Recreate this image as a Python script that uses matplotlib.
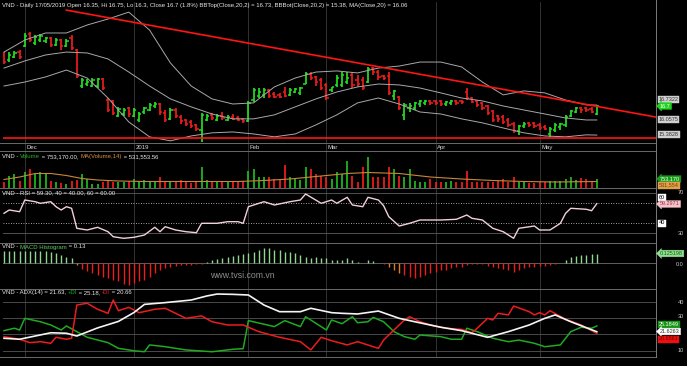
import numpy as np
import matplotlib.pyplot as plt
from matplotlib.lines import Line2D

plt.rcParams['font.family'] = ['Liberation Sans', 'DejaVu Sans']

# ---- data (VND daily, 27/11/2018 - 17/05/2019) ----
opens = [18.99, 18.76, 18.90, 19.12, 19.39, 19.93, 19.53, 19.66, 19.62, 19.75,
         19.44, 19.66, 19.39, 19.75, 19.21, 17.59, 17.68, 17.59, 17.59, 17.91,
         16.96, 16.92, 16.24, 16.33, 16.60, 16.24, 16.06, 16.42, 16.51, 16.69,
         16.78, 16.38, 16.11, 16.51, 16.20, 16.06, 15.97, 15.84, 15.61, 16.06,
         16.29, 16.06, 16.24, 16.06, 16.20, 16.15, 16.11, 16.02, 16.96, 17.14,
         17.19, 17.41, 17.23, 17.19, 17.32, 17.19, 17.32, 17.28, 17.68, 18.13,
         18.00, 17.86, 17.64, 17.41, 17.64, 17.64, 17.77, 18.09, 17.86, 17.86,
         17.77, 18.40, 18.22, 18.04, 18.04, 17.14, 17.10, 16.29, 16.60, 16.60,
         16.78, 16.83, 16.92, 16.92, 16.92, 16.78, 16.83, 16.92, 16.92, 17.32,
         17.05, 16.92, 16.83, 16.69, 16.47, 16.24, 16.20, 16.06, 15.88, 15.57,
         15.79, 15.93, 15.93, 15.84, 15.75, 15.43, 15.61, 15.75, 15.84, 16.24,
         16.42, 16.60, 16.60, 16.56, 16.35]
highs = [19.12, 19.12, 19.17, 19.21, 19.98, 20.02, 19.89, 19.93, 19.80, 19.80,
         19.75, 19.71, 19.71, 19.89, 19.26, 17.95, 17.91, 17.95, 17.95, 17.95,
         17.05, 16.96, 16.65, 16.60, 16.65, 16.60, 16.42, 16.65, 16.83, 16.87,
         16.83, 16.51, 16.60, 16.60, 16.29, 16.11, 16.06, 15.88, 16.38, 16.33,
         16.38, 16.33, 16.42, 16.29, 16.33, 16.24, 16.15, 16.92, 17.50, 17.50,
         17.50, 17.46, 17.32, 17.28, 17.55, 17.50, 17.50, 17.55, 18.22, 18.22,
         18.04, 17.95, 17.73, 17.55, 18.09, 18.22, 18.22, 18.22, 18.09, 18.00,
         18.45, 18.45, 18.31, 18.09, 18.22, 17.41, 17.14, 16.83, 16.83, 16.87,
         16.96, 16.96, 16.96, 16.96, 16.96, 16.92, 16.96, 16.96, 16.96, 17.50,
         17.10, 16.96, 16.87, 16.74, 16.51, 16.29, 16.29, 16.15, 15.97, 15.84,
         15.97, 15.97, 15.97, 15.93, 15.84, 15.75, 15.93, 15.93, 16.29, 16.51,
         16.65, 16.65, 16.65, 16.65, 16.75]
lows = [18.58, 18.67, 18.85, 18.81, 19.35, 19.57, 19.44, 19.57, 19.53, 19.35,
        19.39, 19.21, 19.35, 19.21, 17.95, 17.50, 17.59, 17.55, 17.50, 17.41,
        16.42, 16.29, 16.20, 16.24, 16.20, 16.20, 15.97, 16.33, 16.47, 16.60,
        16.29, 15.97, 16.06, 16.15, 15.88, 15.79, 15.70, 15.57, 15.07, 16.02,
        16.06, 16.02, 16.06, 16.02, 16.06, 16.02, 15.93, 15.97, 16.87, 17.05,
        17.05, 17.05, 17.05, 17.05, 17.10, 17.14, 17.28, 17.19, 17.68, 17.86,
        17.59, 17.41, 16.96, 17.32, 17.55, 17.55, 17.68, 17.50, 17.55, 17.41,
        17.73, 18.09, 17.86, 17.86, 17.19, 16.96, 16.51, 16.06, 16.42, 16.51,
        16.65, 16.74, 16.74, 16.74, 16.69, 16.69, 16.74, 16.74, 16.78, 16.96,
        16.83, 16.65, 16.51, 16.29, 15.97, 15.97, 15.88, 15.75, 15.48, 15.39,
        15.70, 15.75, 15.70, 15.61, 15.61, 15.30, 15.52, 15.61, 15.75, 16.20,
        16.38, 16.38, 16.42, 16.38, 16.30]
closes = [18.67, 18.99, 19.08, 18.90, 19.84, 19.66, 19.80, 19.84, 19.75, 19.44,
          19.66, 19.39, 19.62, 19.30, 18.04, 17.86, 17.77, 17.86, 17.91, 17.50,
          16.51, 16.38, 16.56, 16.51, 16.33, 16.51, 16.33, 16.60, 16.74, 16.78,
          16.42, 16.06, 16.51, 16.24, 16.02, 15.88, 15.79, 15.66, 16.29, 16.24,
          16.15, 16.24, 16.15, 16.20, 16.11, 16.06, 16.02, 16.83, 17.41, 17.32,
          17.41, 17.14, 17.10, 17.10, 17.14, 17.41, 17.46, 17.50, 18.13, 17.95,
          17.77, 17.50, 17.05, 17.55, 17.95, 18.09, 17.95, 17.64, 17.68, 17.50,
          18.36, 18.22, 18.00, 17.95, 17.28, 17.37, 16.60, 16.74, 16.69, 16.83,
          16.92, 16.92, 16.83, 16.83, 16.78, 16.87, 16.92, 16.83, 16.87, 17.05,
          16.87, 16.74, 16.60, 16.38, 16.06, 16.11, 15.97, 15.84, 15.57, 15.79,
          15.88, 15.84, 15.79, 15.70, 15.66, 15.66, 15.84, 15.88, 16.20, 16.47,
          16.60, 16.51, 16.51, 16.42, 16.70]

# volume in thousands of shares
volume = [476, 1025, 1148, 615, 1312, 1574, 1164, 1312, 1148, 615,
          492, 394, 328, 615, 656, 1148, 738, 328, 328, 492,
          656, 492, 492, 492, 574, 738, 615, 656, 492, 615,
          902, 615, 492, 615, 656, 492, 410, 574, 1722, 656,
          615, 615, 492, 615, 574, 492, 615, 1435, 1558, 902,
          902, 902, 738, 656, 1927, 902, 738, 656, 1722, 1558,
          1148, 1025, 902, 738, 1312, 1148, 2255, 1025, 476, 1722,
          2583, 902, 902, 902, 1722, 1558, 1025, 902, 1558, 615,
          476, 476, 738, 476, 476, 476, 615, 476, 476, 1435,
          476, 476, 476, 476, 476, 615, 738, 476, 902, 476,
          476, 394, 394, 476, 476, 615, 574, 574, 738, 902,
          656, 820, 738, 615, 753.17]
vma_idx = [0, 3, 6, 9, 12, 15, 18, 22, 27, 35, 45, 50, 55, 60, 66, 70, 76, 82, 88, 94, 100, 106, 114]
vma_val = [697, 902, 1189, 1189, 1025, 779, 656, 574, 533, 533, 533, 615, 738, 943, 1189,
           1271, 1189, 902, 738, 615, 533, 492, 531.554]

# Bollinger bands (20,2) sampled along the chart
bb_idx = [0, 4, 8, 12, 16, 20, 24, 28, 32, 36, 40, 44, 48, 52, 56, 60, 64, 68, 72, 76,
          80, 84, 88, 92, 96, 100, 104, 108, 112, 114]
bb_top = [19.12, 19.66, 19.98, 19.98, 20.34, 20.61, 20.92, 20.11, 18.63, 17.59,
          17.01, 16.78, 16.83, 17.55, 17.95, 18.22, 18.27, 18.18, 18.40, 18.49,
          18.67, 18.67, 18.45, 17.77, 17.19, 17.37, 17.28, 16.96, 16.74, 16.73]
bb_mid = [18.40, 18.72, 18.99, 19.12, 19.08, 18.81, 18.22, 17.59, 17.01, 16.65,
          16.33, 16.11, 16.11, 16.29, 16.65, 17.01, 17.32, 17.55, 17.68, 17.64,
          17.50, 17.28, 17.05, 16.92, 16.69, 16.51, 16.33, 16.15, 16.06, 16.06]
bb_bot = [17.59, 17.77, 18.00, 18.31, 17.95, 17.05, 15.97, 15.30, 15.12, 15.34,
          15.48, 15.52, 15.43, 15.30, 15.43, 15.84, 16.29, 16.83, 17.05, 16.78,
          16.42, 16.33, 16.11, 15.93, 15.70, 15.48, 15.34, 15.30, 15.39, 15.38]

# hand-drawn lines on the price chart
trend_x = [12, 125.4]
trend_y = [21.01, 16.19]
support_level = 15.27

rsi_idx = [0, 1, 3, 4, 6, 7, 9, 10, 11, 12, 13, 14, 16, 18, 20, 21, 23, 25, 27, 29,
           30, 31, 33, 35, 37, 38, 41, 43, 45, 46, 47, 50, 52, 55, 57, 58, 61, 63, 64, 66,
           67, 69, 70, 72, 73, 74, 76, 78, 80, 84, 87, 89, 90, 92, 94, 96, 98, 99, 102, 103,
           105, 107, 108, 109, 112, 113, 114]
rsi_val = [49.7, 53, 51.3, 63, 61.3, 59.7, 61.3, 56.3, 53, 56.3, 54.7, 34.7, 33, 35.7, 31.3, 26.3, 24.7, 25.7, 28, 35.7,
           31.3, 36.3, 33, 31.3, 30.3, 39.7, 39.7, 41.3, 41.3, 39.7, 56.3, 61.3, 58, 61.3, 63, 69, 59.7, 63, 59.7, 65.7,
           58, 56.3, 65.7, 63, 57.3, 46.3, 37, 39.7, 43, 43, 43.7, 48, 44.7, 43, 34.7, 31.3, 24.7, 34.7, 37, 33,
           33, 39.7, 49.7, 54.7, 53.7, 52.3, 59.3]

macd_hist = [0.163, 0.163, 0.163, 0.163, 0.163, 0.163, 0.163, 0.163, 0.160, 0.150,
             0.135, 0.115, 0.090, 0.070, -0.021, -0.080, -0.110, -0.139, -0.167, -0.190,
             -0.213, -0.236, -0.254, -0.290, -0.306, -0.278, -0.254, -0.236, -0.190, -0.143,
             -0.097, -0.074, -0.051, -0.042, -0.028, -0.028, -0.024, -0.017, -0.010, 0.018,
             0.042, 0.051, 0.065, 0.088, 0.097, 0.111, 0.125, 0.135, 0.157, 0.181,
             0.204, 0.209, 0.181, 0.181, 0.157, 0.157, 0.135, 0.111, 0.088, 0.065,
             0.088, 0.065, 0.065, 0.042, 0.042, 0.042, 0.065, 0.042, 0.018, 0.007,
             0.042, 0.032, 0.004, -0.007, -0.051, -0.097, -0.143, -0.167, -0.190, -0.213,
             -0.190, -0.167, -0.143, -0.121, -0.097, -0.097, -0.074, -0.060, -0.051, -0.028,
             -0.014, -0.007, -0.007, -0.042, -0.060, -0.074, -0.088, -0.097, -0.121, -0.097,
             -0.074, -0.060, -0.051, -0.042, -0.038, -0.028, -0.011, -0.004, 0.042, 0.088,
             0.101, 0.111, 0.115, 0.121, 0.1252]
macd_orange = [14, 74, 75, 76]

adx_idx = [0, 3, 6, 9, 12, 14, 18, 22, 25, 27, 31, 36, 39, 41, 44, 47, 50, 53, 57, 59,
           63, 65, 68, 72, 76, 79, 84, 88, 93, 97, 101, 104, 106, 109, 114]
adx_val = [17.6, 17, 19, 21, 20.7, 19, 24, 28, 33.5, 38.5, 39.6, 41.2, 43.7, 44.9, 44.7, 44.3, 38.1, 34, 34, 36.1,
           33.4, 33, 32.6, 34.4, 29.9, 27.8, 24.4, 22.3, 18.2, 21.7, 25.8, 29.9, 32, 27.8, 21.63]
pdi_idx = [0, 2, 3, 4, 7, 9, 11, 12, 14, 16, 20, 22, 25, 27, 28, 31, 35, 40, 44, 46,
           47, 52, 54, 57, 58, 62, 63, 65, 67, 68, 70, 71, 73, 75, 77, 79, 80, 84, 86, 88,
           89, 91, 94, 97, 99, 102, 104, 107, 109, 111, 113, 114]
pdi_val = [22.3, 23.8, 22.7, 29.9, 27.8, 25.8, 22.7, 25.2, 21.7, 18.2, 14.9, 11.4, 9.9, 9.3, 13.5, 12.4, 10.4, 9.3, 10.8, 11.2,
           28.5, 24.8, 28.5, 24.8, 30.9, 22.7, 28.9, 26.6, 30.9, 27.2, 27.8, 30.5, 27.8, 21.7, 18.6, 17, 19.6, 18.6, 17, 17,
           23.8, 21.7, 17.6, 15.5, 16.5, 14.5, 12.4, 13.5, 21.7, 24.4, 23.8, 25.18]
mdi_idx = [0, 3, 5, 7, 9, 10, 12, 13, 14, 16, 18, 20, 21, 22, 24, 26, 29, 31, 33, 35,
           38, 40, 43, 46, 49, 53, 57, 59, 61, 63, 66, 68, 71, 72, 73, 75, 77, 78, 80, 82,
           85, 88, 90, 91, 93, 94, 95, 97, 98, 101, 102, 103, 104, 105, 108, 111, 114]
mdi_val = [18.6, 17, 14.9, 15.5, 14.5, 18.2, 17, 17.6, 38.1, 39.2, 35.5, 33, 41.2, 34.6, 36.7, 33.4, 35.5, 36.1, 33, 29.9,
           31.4, 27.8, 25.8, 25.8, 21.7, 18.2, 15.5, 10.4, 18.2, 16.1, 13.5, 15.5, 12.4, 11.4, 16.5, 22.7, 28.9, 30.9, 27.8, 25.8,
           23.8, 23.1, 21, 23.8, 29.9, 28.9, 33, 32, 37.5, 34, 32, 33.4, 32, 34.6, 29.3, 25.8, 20.66]

month_idx = [4, 25, 47, 62, 83, 103]
month_labels = ['Dec', '2019', 'Feb', 'Mar', 'Apr', 'May']

# ---- drawing ----
W, H = 687, 366
GREEN, RED = '#22e022', '#ee1c1c'
X_LEFT, X_RIGHT = (3 - 4) / 5.2, (656 - 4) / 5.2
TITLE_SIZE = 4.35
WHITE = '#e8e8e8'

fig = plt.figure(figsize=(W / 100, H / 100), dpi=100, facecolor='black')
renderer = fig.canvas.get_renderer()


def panel(top, bottom):
    ax = fig.add_axes([3 / W, 1 - bottom / H, (656 - 3) / W, (bottom - top) / H])
    ax.set_facecolor('black')
    ax.set_xlim(X_LEFT, X_RIGHT)
    ax.set_xticks([])
    ax.set_yticks([])
    for s in ax.spines.values():
        s.set_visible(False)
    for m in month_idx:
        ax.axvline(m, color='#3a3a3a', lw=0.6, zorder=0)
    return ax


def ftext(x, y, s, **kw):
    return fig.text(x / W, 1 - y / H, s, **kw)


def text_width(s, size):
    t = fig.text(0, 0, s, fontsize=size)
    w = t.get_window_extent(renderer).width
    t.remove()
    return w


def multi_text(x, y, parts, size=TITLE_SIZE):
    # coloured pieces placed one after another (bar trick keeps trailing spaces)
    bar = text_width('|', size)
    prefix = ''
    for s, c in parts:
        dx = text_width(prefix + '|', size) - bar if prefix else 0
        ftext(x + dx, y, s, color=c, fontsize=size, va='center', ha='left')
        prefix += s


idx = np.arange(len(closes))
o, h, l, c = map(np.array, (opens, highs, lows, closes))
up = c >= o
bar_col = np.where(up, GREEN, RED)

# price panel
ax = panel(2, 143.5)
ax.vlines(idx, l, h, colors=bar_col, lw=1.25)
ax.hlines(o, idx - 0.42, idx, colors=bar_col, lw=1.1)
ax.hlines(c, idx, idx + 0.42, colors=bar_col, lw=1.1)
ax.plot(bb_idx, bb_top, color='#a8a8a8', lw=0.7)
ax.plot(bb_idx, bb_mid, color='#a8a8a8', lw=0.7)
ax.plot(bb_idx, bb_bot, color='#a8a8a8', lw=0.7)
ax.plot(trend_x, trend_y, color='#ff1414', lw=1.2)
ax.axhline(support_level, color='#ff1414', lw=1.2)
ax.set_ylim(15.0, 21.376)
ftext(2, 5.5, 'VND - Daily 17/05/2019 Open 16.35, Hi 16.75, Lo 16.3, Close 16.7 (1.8%) '
      'BBTop(Close,20,2) = 16.73, BBBot(Close,20,2) = 15.38, MA(Close,20) = 16.06',
      color=WHITE, fontsize=TITLE_SIZE, va='center')

# date strip
ax = panel(143.5, 151)
ax.set_ylim(0, 1)
for m, lab in zip(month_idx, month_labels):
    ax.text(m + 0.3, 0.5, lab, color='#d8d8d8', fontsize=4.3, va='center', ha='left')

# volume
ax = panel(151, 188)
vol_col = np.where(up, '#1fb41f', '#e81c1c')
ax.vlines(idx, 0, np.array(volume) * 1000, colors=vol_col, lw=1.3)
ax.plot(vma_idx, np.array(vma_val) * 1000, color='#c8883a', lw=0.8)
ax.set_ylim(0, 3.034e6)
multi_text(2, 156.5, [('VND - ', WHITE), ('Volume', '#1fb41f'),
                      (' = 753,170.00, ', WHITE), ('MA(Volume,14)', '#d8903a'),
                      (' = 531,553.56', WHITE)])

# RSI
ax = panel(188, 242.5)
ax.axhline(70, color='#505050', lw=0.7)
ax.axhline(30, color='#505050', lw=0.7)
ax.axhline(60, color='#d8d8d8', lw=0.6, ls=(0, (1, 2)))
ax.axhline(40, color='#d8d8d8', lw=0.6, ls=(0, (1, 2)))
ax.plot(rsi_idx, rsi_val, color='#f2d0da', lw=1.0)
ax.set_ylim(20.5, 75)
ftext(2, 192.5, 'VND - RSI = 59.30, 40 = 40.00, 60 = 60.00', color=WHITE, fontsize=TITLE_SIZE, va='center')

# MACD histogram
ax = panel(242.5, 289)
ax.axhline(0, color='#606060', lw=0.7)
mcol = ['#e07a2a' if i in macd_orange else ('#8fd68f' if v >= 0 else '#ee1c1c')
        for i, v in enumerate(macd_hist)]
ax.vlines(idx, 0, macd_hist, colors=mcol, lw=1.0)
ax.set_ylim(-0.361, 0.285)
multi_text(2, 247, [('VND - ', WHITE), ('MACD Histogram', '#5ccf5c'), (' = 0.13', WHITE)])
ftext(242, 276, 'www.tvsi.com.vn', color='#8c8c8c', fontsize=6.3, va='center', ha='center')

# ADX
ax = panel(289, 357)
for g in (10, 20, 30, 40):
    ax.axhline(g, color='#4a4a4a', lw=0.7)
ax.plot(pdi_idx, pdi_val, color='#1faa1f', lw=1.1)
ax.plot(mdi_idx, mdi_val, color='#ee1c1c', lw=1.1)
ax.plot(adx_idx, adx_val, color='#f4f4f4', lw=1.2)
ax.set_ylim(6.05, 48)
multi_text(2, 292.5, [('VND - ADX(14) = 21.63, ', WHITE), ('+DI', '#1faa1f'),
                      (' = 25.18, ', WHITE), ('-DI', '#ee1c1c'), (' = 20.66', WHITE)])

# frame lines
for y in (143.5, 151, 188, 242.5, 289, 357):
    fig.add_artist(Line2D([0, 656 / W], [1 - y / H] * 2, color='#6a6a6a', lw=0.7))
fig.add_artist(Line2D([656 / W] * 2, [1 - 357 / H, 1], color='#7a7a7a', lw=0.7))


# right-hand value labels
def box_label(y, s, fc, tc, arrow=False):
    style = 'larrow,pad=0.15' if arrow else 'square,pad=0.18'
    ftext(660 if arrow else 658.5, y, s, color=tc, fontsize=4, va='center', ha='left',
          bbox=dict(boxstyle=style, fc=fc, ec=fc, lw=0.3))


def plain_label(y, s):
    ftext(684, y, s, color='#c8c8c8', fontsize=4, va='center', ha='right')


box_label(99.5, '16.7322', '#cfcfcf', '#333333')
box_label(106, '16.7', '#1ed21e', 'white', arrow=True)
box_label(120, '16.0575', '#cfcfcf', '#333333')
box_label(134.5, '15.3828', '#cfcfcf', '#333333')
box_label(179, '753,170', '#1a9a1a', 'white', arrow=True)
box_label(185, '531,554', '#e0a048', '#704010')
plain_label(193, '70')
box_label(197, '60', 'white', 'black')
box_label(204, '59.2971', '#f4c4cc', '#a03040', arrow=True)
box_label(223, '40', 'white', 'black')
plain_label(233, '30')
box_label(253.5, '0.125198', '#8ee08e', '#1a5a1a', arrow=True)
plain_label(264, '0.0')
plain_label(302, '40')
plain_label(317, '30')
box_label(324, '25.1849', '#169616', 'white')
box_label(331.5, '21.6263', 'white', '#333333', arrow=True)
box_label(339, '20.6561', '#ee1010', '#700000')
plain_label(350, '10')

fig.savefig('out.png', dpi=100, facecolor='black')
